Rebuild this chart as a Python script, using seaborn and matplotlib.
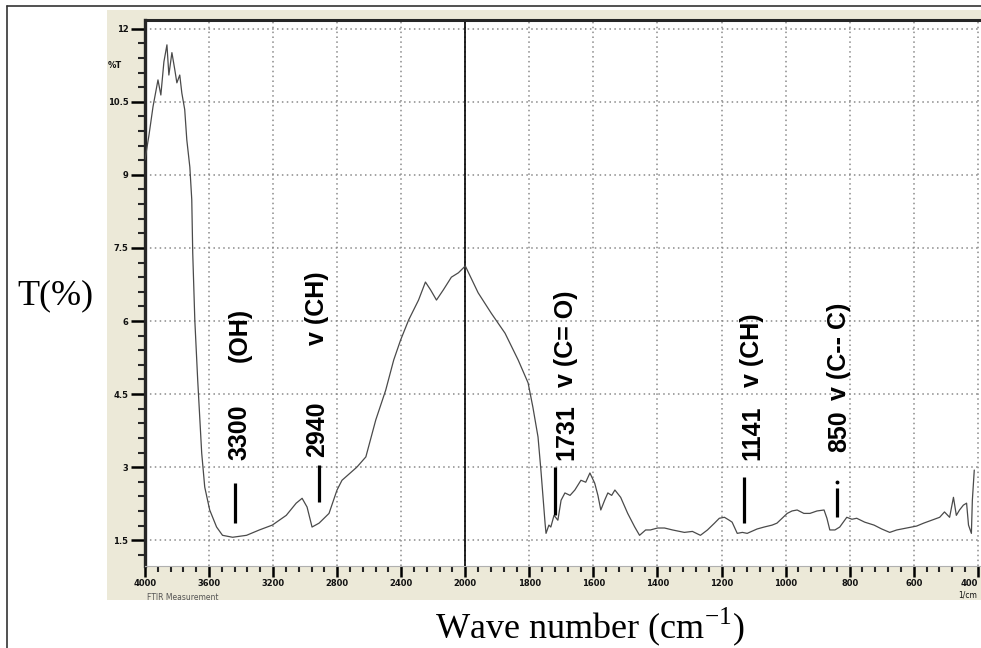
import numpy as np
import pandas as pd
import matplotlib
matplotlib.use("Agg")
import matplotlib.pyplot as plt
import seaborn as sns
from matplotlib.patches import Rectangle
from matplotlib.lines import Line2D
from matplotlib.ticker import FixedLocator, FixedFormatter

# ---------------- data ----------------
wavenumber = [4000, 3975, 3950, 3919, 3901, 3882, 3863, 3851, 3832, 3814, 3801, 3783, 3770,
              3752, 3739, 3720, 3708, 3702, 3689, 3671, 3646, 3627, 3596, 3553, 3516, 3453,
              3366, 3286, 3205, 3118, 3056, 3019, 2988, 2957, 2913, 2851, 2801, 2770, 2677,
              2621, 2559, 2497, 2447, 2404, 2354, 2292, 2249, 2217, 2180, 2137, 2087, 2043,
              2000, 1960, 1919, 1876, 1835, 1804, 1789, 1773, 1764, 1751, 1748, 1739, 1733,
              1723, 1711, 1701, 1689, 1673, 1658, 1639, 1624, 1611, 1596, 1586, 1577, 1565,
              1555, 1543, 1533, 1515, 1493, 1471, 1456, 1437, 1422, 1400, 1378, 1353, 1316,
              1291, 1266, 1244, 1222, 1207, 1191, 1176, 1167, 1151, 1135, 1120, 1089, 1067,
              1042, 1027, 1011, 995, 980, 964, 943, 924, 902, 880, 871, 862, 846, 831, 809,
              793, 778, 753, 724, 700, 675, 653, 622, 591, 569, 544, 519, 504, 488, 476, 467,
              457, 445, 435, 429, 420, 417, 411]
transmittance = [9.31, 9.82, 10.40, 10.95, 10.64, 11.32, 11.67, 11.05, 11.51, 11.16, 10.89, 11.05, 10.68,
                 10.34, 9.72, 9.16, 8.49, 7.40, 6.02, 4.79, 3.29, 2.59, 2.12, 1.77, 1.60, 1.56,
                 1.60, 1.71, 1.81, 2.01, 2.26, 2.36, 2.18, 1.77, 1.85, 2.05, 2.53, 2.73, 3.00,
                 3.21, 3.97, 4.58, 5.20, 5.61, 6.02, 6.43, 6.80, 6.64, 6.43, 6.64, 6.90, 6.99,
                 7.13, 6.58, 6.16, 5.75, 5.20, 4.73, 4.23, 3.62, 2.94, 1.85, 1.64, 1.81, 1.77,
                 2.01, 1.91, 2.32, 2.47, 2.42, 2.53, 2.73, 2.69, 2.88, 2.67, 2.42, 2.12, 2.32,
                 2.47, 2.42, 2.53, 2.38, 2.05, 1.77, 1.60, 1.71, 1.71, 1.75, 1.75, 1.71, 1.66,
                 1.68, 1.60, 1.71, 1.85, 1.95, 1.97, 1.91, 1.87, 1.64, 1.66, 1.64, 1.73, 1.77,
                 1.81, 1.85, 1.95, 2.05, 2.10, 2.12, 2.05, 2.05, 2.10, 2.12, 1.95, 1.71, 1.71, 1.77, 1.97,
                 1.93, 1.95, 1.87, 1.81, 1.73, 1.66, 1.71, 1.75, 1.79, 1.85, 1.91, 1.97, 2.08, 1.97, 2.38, 2.01,
                 2.12, 2.22, 2.26, 1.81, 1.64, 2.32, 2.94]

x_major = [4000, 3600, 3200, 2800, 2400, 2000, 1800, 1600, 1400, 1200, 1000, 800, 600, 400]
x_labels = ["4000", "3600", "3200", "2800", "2400", "2000", "1800", "1600", "1400", "1200",
            "1000", "800", "600", "400"]
y_major = [1.5, 3, 4.5, 6, 7.5, 9, 10.5, 12]
y_labels = ["1.5", "3", "4.5", "6", "7.5", "9", "10.5", "12"]

peak_numbers = ["3300", "2940", "1731", "1141", "850"]
peak_groups = ["(OH)", "v (CH)", "v (C= O)", "v (CH)", "v (C-- C)"]
label_x = [3410, 2925, 1686, 1104, 834]
number_y = [3.14, 3.21, 3.14, 3.14, 3.31]
group_y = [5.16, 5.51, 4.64, 4.64, 4.38]
bar_x = [3441, 2913, 1720, 1129, 840]
bar_top = [2.67, 3.04, 3.00, 2.79, 2.57]
bar_bottom = [1.85, 2.28, 2.01, 1.85, 1.97]

df = pd.DataFrame({"wn": wavenumber, "T": transmittance})

# ---------------- style ----------------
sns.set_style("ticks")
plt.rcParams["font.family"] = ["DejaVu Sans"]
plt.rcParams["mathtext.fontset"] = "custom"
plt.rcParams["mathtext.rm"] = "Liberation Serif"

W, H = 981, 648
fig = plt.figure(figsize=(W / 100, H / 100), dpi=100)
fig.patch.set_facecolor("white")

# beige panel behind axis area
fig.patches.append(Rectangle((107 / W, 1 - 600 / H), (W - 107) / W, (600 - 10) / H,
                             transform=fig.transFigure, facecolor="#ECE9D8",
                             edgecolor="none", zorder=0))
# outer frame lines
fig.lines.append(Line2D([7 / W, 7 / W], [0, 1 - 6 / H], transform=fig.transFigure,
                        color="#333333", lw=1.2))
fig.lines.append(Line2D([7 / W, 1], [1 - 6 / H, 1 - 6 / H], transform=fig.transFigure,
                        color="#333333", lw=1.2))

ax_left, ax_right, ax_top, ax_bottom = 145, 981, 20, 566
ax = fig.add_axes([ax_left / W, 1 - ax_bottom / H, (ax_right - ax_left) / W,
                   (ax_bottom - ax_top) / H])
ax.set_facecolor("white")
ax.set_zorder(2)

sns.lineplot(data=df, x="wn", y="T", ax=ax, sort=False, estimator=None,
             color="#4a4a4a", lw=0.9, zorder=3)


def fwd(x):
    x = np.asarray(x, dtype=float)
    return np.where(x > 2000, 2000 + (x - 2000) / 2.0, x)


def inv(y):
    y = np.asarray(y, dtype=float)
    return np.where(y > 2000, 2000 + (y - 2000) * 2.0, y)


ax.set_xscale("function", functions=(fwd, inv))
ax.set_xlim(4000, 390)
ax.set_ylim(0.97, 12.18)

# ticks
ax.xaxis.set_major_locator(FixedLocator(x_major))
ax.xaxis.set_major_formatter(FixedFormatter(x_labels))
x_minor = [v for v in range(4000, 2000, -80) if v not in x_major] + \
          [v for v in range(2000, 390, -40) if v not in x_major]
ax.xaxis.set_minor_locator(FixedLocator(x_minor))
ax.yaxis.set_major_locator(FixedLocator(y_major))
ax.yaxis.set_major_formatter(FixedFormatter(y_labels))
ax.yaxis.set_minor_locator(FixedLocator(list(np.arange(1.2, 12.1, 0.3))))

ax.tick_params(axis="both", which="major", direction="out", color="black",
               labelsize=6, labelcolor="#111111")
ax.tick_params(axis="x", which="major", length=8, width=1.8, pad=1.5)
ax.tick_params(axis="x", which="minor", length=4, width=1.5)
ax.tick_params(axis="y", which="major", length=10, width=1.8, pad=2)
ax.tick_params(axis="y", which="minor", length=5, width=1.5)
for t in ax.xaxis.get_major_ticks() + ax.yaxis.get_major_ticks():
    t.label1.set_fontweight("bold")
ax.xaxis.get_major_ticks()[-1].label1.set_horizontalalignment("right")

ax.set_xlabel("")
ax.set_ylabel("")

# dotted grid
ax.grid(True, which="major", color="#8a8a8a", linestyle=(0, (1, 2.2)), lw=1.1, zorder=1)
ax.axvline(2000, color="black", lw=1.2, zorder=2)

# spines
ax.spines["top"].set_linewidth(2.2)
ax.spines["left"].set_linewidth(2.4)
ax.spines["right"].set_visible(False)
ax.spines["bottom"].set_color("#b0b0b0")
ax.spines["bottom"].set_linewidth(0.8)

# peak annotations
for num, grp, tx, ny, gy in zip(peak_numbers, peak_groups, label_x, number_y, group_y):
    ax.text(tx, ny, num, rotation=90, ha="center", va="bottom", fontsize=18,
            fontweight="bold", family=["Liberation Sans"], color="black", zorder=4)
    ax.text(tx, gy, grp, rotation=90, ha="center", va="bottom", fontsize=18,
            fontweight="bold", family=["Liberation Sans"], color="black", zorder=4)
for bx, bt, bb in zip(bar_x, bar_top, bar_bottom):
    ax.plot([bx, bx], [bb, bt], color="black", lw=2.3, solid_capstyle="butt", zorder=4)
ax.plot([bar_x[-1]], [2.69], marker="o", ms=1.8, color="black", zorder=4)

# small software texts
fig.text(115 / W, 1 - 66 / H, "%T", fontsize=6, fontweight="bold", ha="center",
         va="center", color="#111111", zorder=3)
fig.text(147 / W, 1 - 597 / H, "FTIR Measurement", fontsize=5.5, ha="left", va="center",
         color="#555555", zorder=3)
fig.text(958 / W, 1 - 595 / H, "1/cm", fontsize=5.5, ha="left", va="center",
         color="#111111", zorder=3)

# axis titles
fig.text(55 / W, 1 - 296 / H, "T(%)", fontsize=26, family=["Liberation Serif"],
         ha="center", va="center", color="black")
fig.text(590 / W, 1 - 627 / H, "Wave number (cm$^{-1}$)", fontsize=26,
         family=["Liberation Serif"], ha="center", va="center", color="black")

fig.savefig("out.png", dpi=100, facecolor="white")
